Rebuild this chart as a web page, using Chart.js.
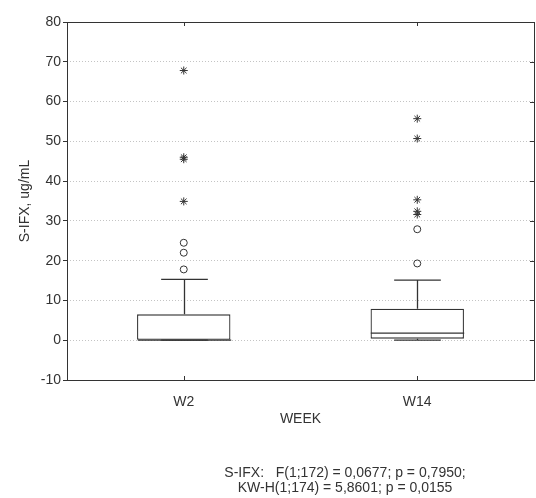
<html>
<head>
    <script src="https://cdn.jsdelivr.net/npm/chart.js@4.4.1/dist/chart.umd.min.js"></script>
    <style>
        body { margin: 0; background: #fff; }
    </style>
</head>

<body>
    <canvas id="myChart" width="536" height="498"></canvas>
    <script>
        // box plot values per week
        const weeks = ['W2', 'W14']
        const q1 = [0, 0.4]
        const q3 = [6.5, 7.9]
        const median = [0, 1.8]
        const whiskerLow = [0, 0]
        const whiskerHigh = [15.3, 15.1]
        const outliersW2 = [17.8, 22.0, 24.5]
        const extremesW2 = [34.9, 45.5, 46.0, 67.8]
        const outliersW14 = [19.3, 27.9]
        const extremesW14 = [31.6, 32.4, 35.3, 50.7, 55.7]
        const yTicks = [-10, 0, 10, 20, 30, 40, 50, 60, 70, 80]
        const footer = ['S-IFX:   F(1;172) = 0,0677; p = 0,7950;', 'KW-H(1;174) = 5,8601; p = 0,0155']

        const font = 'Liberation Sans, Arial, sans-serif'

        function points(label, vals) {
            return vals.map(v => ({ x: label, y: v }))
        }

        const boxExtras = {
            id: 'boxExtras',
            afterDatasetsDraw(chart) {
                const ctx = chart.ctx
                const y = chart.scales.y
                const meta = chart.getDatasetMeta(0)
                ctx.save()
                ctx.strokeStyle = '#333'
                ctx.lineWidth = 1.3
                meta.data.forEach((bar, i) => {
                    const cx = Math.round(bar.x) + 0.5
                    const half = bar.width / 2
                    const capHalf = bar.width / 4
                    // median
                    const ym = y.getPixelForValue(median[i])
                    ctx.beginPath()
                    ctx.moveTo(cx - half, ym)
                    ctx.lineTo(cx + half, ym)
                    ctx.stroke()
                    // whiskers
                    const yTop = y.getPixelForValue(q3[i])
                    const yHi = y.getPixelForValue(whiskerHigh[i])
                    const yBot = y.getPixelForValue(q1[i])
                    const yLo = y.getPixelForValue(whiskerLow[i])
                    ctx.beginPath()
                    ctx.moveTo(cx, yTop)
                    ctx.lineTo(cx, yHi)
                    ctx.moveTo(cx - capHalf, yHi)
                    ctx.lineTo(cx + capHalf, yHi)
                    if (whiskerLow[i] < q1[i]) {
                        ctx.moveTo(cx, yBot)
                        ctx.lineTo(cx, yLo)
                    }
                    ctx.moveTo(cx - capHalf, yLo)
                    ctx.lineTo(cx + capHalf, yLo)
                    ctx.stroke()
                })
                ctx.restore()
            },
            afterDraw(chart) {
                const ctx = chart.ctx
                const a = chart.chartArea
                const y = chart.scales.y
                const x = chart.scales.x
                ctx.save()
                // frame
                ctx.strokeStyle = '#333'
                ctx.lineWidth = 1
                ctx.strokeRect(Math.round(a.left) + 0.5, Math.round(a.top) + 0.5, Math.round(a.right - a.left), Math.round(a.bottom - a.top))
                // inner ticks on right side and top / bottom
                ctx.beginPath()
                yTicks.forEach(v => {
                    const py = Math.round(y.getPixelForValue(v)) + 0.5
                    ctx.moveTo(a.right - 4, py)
                    ctx.lineTo(a.right, py)
                })
                weeks.forEach((w, i) => {
                    const px = Math.round(x.getPixelForValue(i)) + 0.5
                    ctx.moveTo(px, a.top)
                    ctx.lineTo(px, a.top + 4)
                    ctx.moveTo(px, a.bottom)
                    ctx.lineTo(px, a.bottom - 4)
                })
                ctx.stroke()
                // footer text
                ctx.fillStyle = '#333'
                ctx.font = '14px ' + font
                ctx.textAlign = 'center'
                ctx.textBaseline = 'middle'
                ctx.fillText(footer[0], 345, 473)
                ctx.fillText(footer[1], 345, 488)
                ctx.restore()
            }
        }

        drawChart()
        function drawChart() {
            const ctx = document.getElementById('myChart').getContext('2d')
            Chart.defaults.font.family = font
            Chart.defaults.color = '#333'
            const myChart = new Chart(ctx, {
                type: 'bar',
                data: {
                    labels: weeks,
                    datasets: [{
                        label: 'box',
                        data: weeks.map((w, i) => [q1[i], q3[i]]),
                        backgroundColor: '#fff',
                        borderColor: '#333',
                        borderWidth: 1.3,
                        borderSkipped: false,
                        barPercentage: 0.4,
                        categoryPercentage: 1
                    }, {
                        type: 'scatter',
                        label: 'outliers',
                        data: points(weeks[0], outliersW2).concat(points(weeks[1], outliersW14)),
                        pointStyle: 'circle',
                        pointRadius: 3.5,
                        backgroundColor: '#fff',
                        borderColor: '#333',
                        borderWidth: 1
                    }, {
                        type: 'scatter',
                        label: 'extremes',
                        data: points(weeks[0], extremesW2).concat(points(weeks[1], extremesW14)),
                        pointStyle: 'star',
                        pointRadius: 4,
                        backgroundColor: '#333',
                        borderColor: '#333',
                        borderWidth: 1
                    }]
                },
                options: {
                    responsive: false,
                    animation: false,
                    events: [],
                    layout: { autoPadding: false, padding: { left: 0, right: 2, top: 22, bottom: 0 } },
                    plugins: {
                        legend: { display: false },
                        tooltip: { enabled: false }
                    },
                    scales: {
                        x: {
                            type: 'category',
                            offset: true,
                            grid: { display: false },
                            border: { display: false },
                            ticks: { font: { size: 14 }, padding: 6 },
                            title: {
                                display: true,
                                text: 'WEEK',
                                font: { size: 14 },
                                padding: { top: 0, bottom: 70 }
                            },
                            afterFit(scale) { scale.height = 118 }
                        },
                        y: {
                            min: -10,
                            max: 80,
                            afterBuildTicks(scale) { scale.ticks = yTicks.map(v => ({ value: v })) },
                            grid: {
                                color: '#c4c4c4',
                                tickColor: '#333',
                                tickBorderDash: [],
                                tickLength: 4
                            },
                            border: { display: false, dash: [1, 2] },
                            ticks: { font: { size: 14 }, padding: 2 },
                            title: {
                                display: true,
                                text: 'S-IFX, ug/mL',
                                font: { size: 14 },
                                padding: { top: 17, bottom: 0 }
                            },
                            afterFit(scale) { scale.width = 67 }
                        }
                    }
                },
                plugins: [boxExtras]
            })
        }
    </script>
</body>

</html>
